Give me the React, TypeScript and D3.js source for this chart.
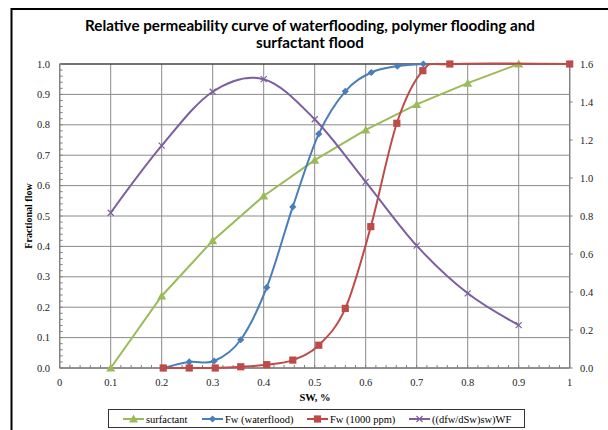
import React from "react";
import * as d3 from "d3";

// ---- data ----
const surfX = [0.1, 0.2, 0.3, 0.4, 0.5, 0.6, 0.7, 0.8, 0.9];
const surfY = [0, 0.237, 0.419, 0.566, 0.684, 0.783, 0.867, 0.937, 1.0];

const waterX = [0.203, 0.254, 0.303, 0.355, 0.406, 0.457, 0.508, 0.56, 0.611, 0.662, 0.713];
const waterY = [0, 0.02, 0.023, 0.093, 0.265, 0.53, 0.77, 0.91, 0.972, 0.993, 1.0];

const polyX = [0.203, 0.254, 0.305, 0.355, 0.406, 0.457, 0.508, 0.56, 0.61, 0.661, 0.712, 0.765, 1.0];
const polyY = [0, 0, 0, 0.004, 0.011, 0.026, 0.075, 0.196, 0.465, 0.805, 0.978, 1.0, 1.0];

const derivX = [0.1, 0.2, 0.3, 0.4, 0.5, 0.6, 0.7, 0.8, 0.9];
const derivY = [0.817, 1.17, 1.454, 1.52, 1.309, 0.98, 0.644, 0.393, 0.226];

const xTicks = [0, 0.1, 0.2, 0.3, 0.4, 0.5, 0.6, 0.7, 0.8, 0.9, 1];
const xTickLabels = ["0", "0.1", "0.2", "0.3", "0.4", "0.5", "0.6", "0.7", "0.8", "0.9", "1"];
const yLeftTicks = [0, 0.1, 0.2, 0.3, 0.4, 0.5, 0.6, 0.7, 0.8, 0.9, 1.0];
const yRightTicks = [0, 0.2, 0.4, 0.6, 0.8, 1.0, 1.2, 1.4, 1.6];

const titleLines = ["Relative permeability curve of waterflooding, polymer flooding and", "surfactant flood"];
const legendNames = ["surfactant", "Fw (waterflood)", "Fw (1000 ppm)", "((dfw/dSw)sw)WF"];

const GREEN = "#9BBB59";
const BLUE = "#4A7EBB";
const RED = "#BE4B48";
const PURPLE = "#7D5FA0";

const W = 608;
const H = 430;
const L = 59.7, R = 569.7, T = 64, B = 368;

const x = d3.scaleLinear().domain([0, 1]).range([L, R]);
const yL = d3.scaleLinear().domain([0, 1]).range([B, T]);
const yR = d3.scaleLinear().domain([0, 1.6]).range([B, T]);

const serif = "'Liberation Serif', 'Times New Roman', serif";

function Marker({ kind, cx, cy, color }: { kind: string; cx: number; cy: number; color: string }) {
  if (kind === "tri") {
    const s = 4.5;
    return <path d={`M${cx},${cy - s}L${cx + s},${cy + s * 0.8}L${cx - s},${cy + s * 0.8}Z`} fill={color} />;
  }
  if (kind === "dia") {
    const s = 3.6;
    return <path d={`M${cx},${cy - s}L${cx + s},${cy}L${cx},${cy + s}L${cx - s},${cy}Z`} fill={color} />;
  }
  if (kind === "sq") {
    const s = 3.6;
    return <rect x={cx - s} y={cy - s} width={2 * s} height={2 * s} fill={color} />;
  }
  const s = 3;
  return (
    <path d={`M${cx - s},${cy - s}L${cx + s},${cy + s}M${cx - s},${cy + s}L${cx + s},${cy - s}`} stroke={color} strokeWidth={1.2} fill="none" />
  );
}

export default function App() {
  const straight = d3.line<[number, number]>().x((d) => d[0]).y((d) => d[1]);
  const smooth = d3
    .line<[number, number]>()
    .x((d) => d[0])
    .y((d) => d[1])
    .curve(d3.curveCatmullRom.alpha(0));

  const series = [
    { xs: surfX, ys: surfY, sy: yL, color: GREEN, kind: "tri", gen: straight },
    { xs: waterX, ys: waterY, sy: yL, color: BLUE, kind: "dia", gen: smooth },
    { xs: polyX, ys: polyY, sy: yL, color: RED, kind: "sq", gen: smooth },
    { xs: derivX, ys: derivY, sy: yR, color: PURPLE, kind: "x", gen: smooth },
  ];

  const minorX = d3.range(0, 1.0001, 0.02);
  const minorY = d3.range(0, 1.0001, 0.02);

  const legendItems = [
    { lx: 123, tx: 146 },
    { lx: 202, tx: 225 },
    { lx: 307, tx: 330 },
    { lx: 409, tx: 432 },
  ];
  const legY = 419;

  return (
    <svg width={W} height={H} style={{ position: "absolute", left: 0, top: 0, background: "#fff" }}>
      <rect x={0} y={0} width={W} height={H} fill="#fff" />
      {/* outer frame */}
      <path d={`M11.5,${H + 5}V9H${W + 5}`} stroke="#000" strokeWidth={2} fill="none" />

      {/* title */}
      {titleLines.map((t, i) => (
        <text
          key={i}
          x={310}
          y={31 + i * 16.5}
          textAnchor="middle"
          fontFamily="Lato, 'Open Sans', sans-serif"
          fontWeight="bold"
          fontSize={15.2}
          fill="#000"
        >
          {t}
        </text>
      ))}

      {/* gridlines */}
      {yLeftTicks.map((v) => (
        <line key={"gy" + v} x1={L} x2={R} y1={yL(v)} y2={yL(v)} stroke="#8a8a8a" strokeWidth={1} />
      ))}
      {xTicks.map((v) => (
        <line key={"gx" + v} x1={x(v)} x2={x(v)} y1={T} y2={B} stroke="#8a8a8a" strokeWidth={1} />
      ))}
      {/* axes */}
      <line x1={L} x2={R} y1={T} y2={T} stroke="#222" strokeWidth={1.2} />
      <line x1={L} x2={L} y1={T} y2={B} stroke="#808080" strokeWidth={1.3} />
      <line x1={R} x2={R} y1={T} y2={B} stroke="#808080" strokeWidth={1.3} />
      <line x1={L} x2={R} y1={B} y2={B} stroke="#808080" strokeWidth={1.3} />
      {minorX.map((v, i) => (
        <line key={"mx" + i} x1={x(v)} x2={x(v)} y1={B} y2={B - 3} stroke="#808080" strokeWidth={1} />
      ))}
      {minorY.map((v, i) => (
        <line key={"my" + i} x1={L} x2={L + 3} y1={yL(v)} y2={yL(v)} stroke="#808080" strokeWidth={1} />
      ))}
      {yRightTicks.map((v) => (
        <line key={"rt" + v} x1={R} x2={R + 3} y1={yR(v)} y2={yR(v)} stroke="#808080" strokeWidth={1} />
      ))}

      {/* tick labels */}
      {xTicks.map((v, i) => (
        <text key={"xl" + v} x={x(v)} y={386} textAnchor="middle" fontFamily={serif} fontSize={10.5} fill="#222">
          {xTickLabels[i]}
        </text>
      ))}
      {yLeftTicks.map((v) => (
        <text key={"yl" + v} x={50} y={yL(v) + 3.5} textAnchor="end" fontFamily={serif} fontSize={10.5} fill="#222">
          {d3.format(".1f")(v)}
        </text>
      ))}
      {yRightTicks.map((v) => (
        <text key={"yr" + v} x={580} y={yR(v) + 3.5} textAnchor="start" fontFamily={serif} fontSize={10.5} fill="#222">
          {d3.format(".1f")(v)}
        </text>
      ))}

      {/* axis titles */}
      <text x={315} y={401} textAnchor="middle" fontFamily={serif} fontWeight="bold" fontSize={10.5} fill="#000">
        SW, %
      </text>
      <text
        transform={`translate(31.5,${(T + B) / 2}) rotate(-90)`}
        textAnchor="middle"
        fontFamily={serif}
        fontWeight="bold"
        fontSize={10}
        fill="#000"
      >
        Fractional flow
      </text>

      {/* series */}
      {series.map((s, si) => {
        const pts: [number, number][] = s.xs.map((xv, i) => [x(xv), s.sy(s.ys[i])]);
        return (
          <g key={"s" + si}>
            <path d={s.gen(pts) || ""} fill="none" stroke={s.color} strokeWidth={2} />
            {pts.map((p, i) => (
              <Marker key={i} kind={s.kind} cx={p[0]} cy={p[1]} color={s.color} />
            ))}
          </g>
        );
      })}

      {/* legend */}
      <rect x={108.5} y={409.5} width={416} height={18} fill="#fff" stroke="#333" strokeWidth={1} />
      {legendItems.map((it, i) => {
        const s = series[i];
        return (
          <g key={"lg" + i}>
            <line x1={it.lx} x2={it.lx + 21} y1={legY} y2={legY} stroke={s.color} strokeWidth={2} />
            <Marker kind={s.kind} cx={it.lx + 10.5} cy={legY} color={s.color} />
            <text x={it.tx} y={legY + 3.8} fontFamily={serif} fontSize={10.5} fill="#000">
              {legendNames[i]}
            </text>
          </g>
        );
      })}
    </svg>
  );
}
